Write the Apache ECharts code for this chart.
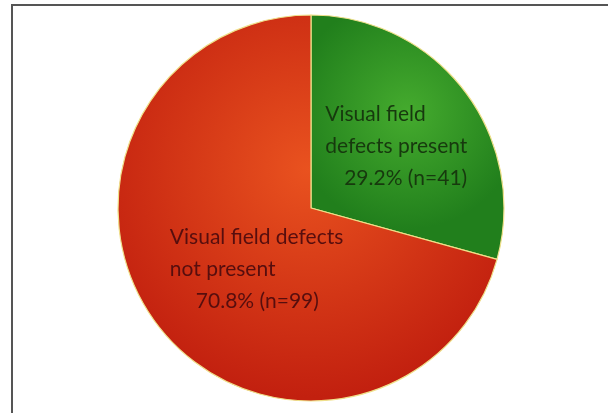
<!DOCTYPE html>
<html>
<head>
<meta charset="utf-8">
<script src="https://cdn.jsdelivr.net/npm/echarts@6/dist/echarts.min.js"></script>
<style>
  html, body { margin: 0; padding: 0; background: #fff; }
  #frame {
    position: absolute; left: 11px; top: 4px; width: 597px; height: 409px;
    border-top: 2px solid #555; border-left: 2px solid #555; box-sizing: border-box;
  }
  #chart { position: absolute; left: 0; top: 0; width: 608px; height: 413px; }
</style>
</head>
<body>
<div id="frame"></div>
<div id="chart"></div>
<script>
// 数据
const lines = [['Visual field', 'defects present'], ['Visual field defects', 'not present']];
const counts = [41, 99];
const percents = ['29.2%', '70.8%'];

let chart = echarts.init(document.getElementById('chart'));

function radial(inner, outer) {
  return {
    type: 'radial', x: 0.5, y: 0.4, r: 0.6, global: false,
    colorStops: [{ offset: 0, color: inner }, { offset: 1, color: outer }]
  };
}
const fills = [radial('#45ab2e', '#217f1c'), radial('#e9521f', '#c2200f')];
const textColors = ['#17390e', '#560e0e'];
const boxW = [160, 200];      // 文本框宽度
const offsets = [[15, -1], [38, 1]];
const indents = [19, 26];

let option = {
  animation: false,
  series: [{
    type: 'pie',
    center: [311, 208],
    radius: 193,
    startAngle: 90,
    clockwise: true,
    itemStyle: { borderColor: '#efe08a', borderWidth: 1.2 },
    labelLine: { show: false },
    data: counts.map((c, i) => ({
      name: lines[i].join(' '),
      value: c,
      itemStyle: { color: fills[i] },
      label: {
        show: true,
        position: 'inside',
        offset: offsets[i],
        color: textColors[i],
        fontFamily: 'Lato',
        fontSize: 21,
        lineHeight: 32,
        formatter: () => lines[i].map(l => '{t|' + l + '}').join('\n') +
          '\n{s| }{p|' + percents[i] + ' (n=' + c + ')}',
        rich: {
          t: { width: boxW[i], align: 'left', color: textColors[i], fontFamily: 'Lato', fontSize: 21, lineHeight: 32 },
          s: { width: indents[i], align: 'left', fontSize: 21, lineHeight: 32 },
          p: { width: boxW[i] - indents[i], align: 'left', color: textColors[i], fontFamily: 'Lato', fontSize: 21, lineHeight: 32 }
        }
      }
    }))
  }]
};

chart.setOption(option, true);
</script>
</body>
</html>
